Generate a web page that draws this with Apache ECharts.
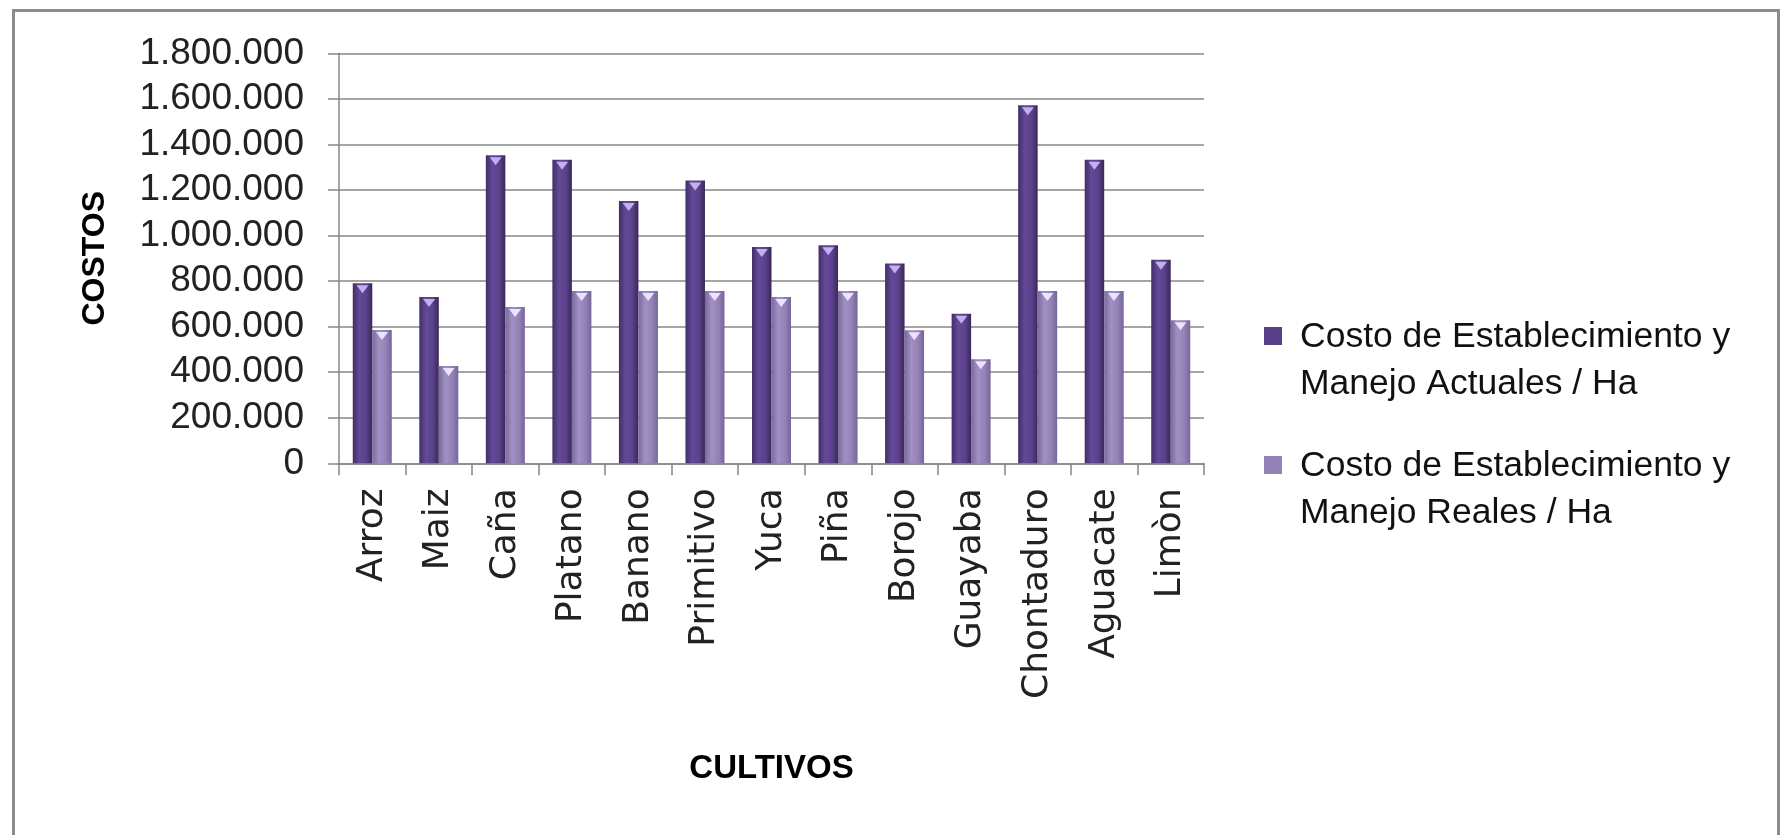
<!DOCTYPE html>
<html>
<head>
<meta charset="utf-8">
<script src="https://cdn.jsdelivr.net/npm/echarts@6/dist/echarts.min.js"></script>
<style>
html,body{margin:0;padding:0;background:#fff;}
#chart{width:1780px;height:835px;}
</style>
</head>
<body>
<div id="chart"></div>
<script>
const categories = ['Arroz','Maiz','Caña','Platano','Banano','Primitivo','Yuca','Piña','Borojo','Guayaba','Chontaduro','Aguacate','Limòn'];
const seriesNames = ['Costo de Establecimiento y Manejo Actuales / Ha','Costo de Establecimiento y Manejo Reales / Ha'];
const legendLabels = ['Costo de Establecimiento y\nManejo Actuales / Ha','Costo de Establecimiento y\nManejo Reales / Ha'];
const actuales = [790000, 730000, 1352000, 1333000, 1152000, 1242000, 950000, 957000, 877000, 657000, 1572000, 1333000, 894000];
const reales   = [585000, 427000, 686000, 756000, 756000, 756000, 730000, 756000, 584000, 457000, 756000, 756000, 628000];
const yTicks = {min: 0, max: 1800000, interval: 200000};

const chart = echarts.init(document.getElementById('chart'));
const G = echarts.graphic.LinearGradient;
const darkGrad = new G(0,0,1,0,[
  {offset:0,color:'#432d68'},{offset:0.35,color:'#644a97'},{offset:0.7,color:'#5a418a'},{offset:1,color:'#3a275a'}]);
const lightGrad = new G(0,0,1,0,[
  {offset:0,color:'#7a6a9c'},{offset:0.35,color:'#a090c3'},{offset:0.7,color:'#9482b6'},{offset:1,color:'#75659a'}]);
const fmt = v => v === 0 ? '0' : String(v).replace(/\B(?=(\d{3})+(?!\d))/g, '.');
const tri = 'path://M0,0 L10,0 L5,7 Z';
const legendIcon = 'path://M2,13 L20,13 L20,31 L2,31 Z M0,0 L0.01,0 M33,94 L33.01,94';
const gridColor = '#878787';

chart.setOption({
  animation: false,
  backgroundColor: '#fff',
  grid: {left: 339, right: 576, top: 53.3, bottom: 371.7, containLabel: false},
  legend: {
    orient: 'vertical', left: 1262, top: 314, itemGap: 35, padding: 0,
    itemWidth: 33, itemHeight: 94, icon: legendIcon,
    data: [
      {name: seriesNames[0], itemStyle: {color: '#5a408b'}},
      {name: seriesNames[1], itemStyle: {color: '#9382b5'}}
    ],
    formatter: n => legendLabels[seriesNames.indexOf(n)],
    textStyle: {fontFamily: 'Liberation Sans', fontSize: 35.5, lineHeight: 47, color: '#111'},
    selectedMode: false
  },
  xAxis: {
    type: 'category', data: categories,
    name: 'CULTIVOS', nameLocation: 'middle', nameGap: 289,
    nameTextStyle: {fontFamily: 'Liberation Sans', fontWeight: 'bold', fontSize: 33, color: '#000'},
    axisLine: {lineStyle: {color: gridColor, width: 1.5}},
    axisTick: {show: true, length: 12, lineStyle: {color: gridColor, width: 1.5}},
    axisLabel: {rotate: 90, margin: 25, fontFamily: 'DejaVu Sans', fontSize: 36, color: '#222', interval: 0}
  },
  yAxis: {
    type: 'value', min: yTicks.min, max: yTicks.max, interval: yTicks.interval,
    name: 'COSTOS', nameLocation: 'middle', nameRotate: 90, nameGap: 228,
    nameTextStyle: {fontFamily: 'Liberation Sans', fontWeight: 'bold', fontSize: 32, color: '#000'},
    axisLine: {show: true, lineStyle: {color: gridColor, width: 1.5}},
    axisTick: {show: true, length: 11, lineStyle: {color: gridColor, width: 1.5}},
    splitLine: {lineStyle: {color: gridColor, width: 1.5}},
    axisLabel: {margin: 35, fontFamily: 'Liberation Sans', fontSize: 37, color: '#222', formatter: fmt}
  },
  series: [
    {name: seriesNames[0], type: 'bar', data: actuales, barWidth: 19.5, barGap: '0%',
     itemStyle: {color: darkGrad}},
    {name: seriesNames[1], type: 'bar', data: reales, barWidth: 19.5, barGap: '0%',
     itemStyle: {color: lightGrad}},
    {name: 'tri1', type: 'pictorialBar', data: actuales, barWidth: 19.5, barGap: '0%',
     symbol: tri, symbolSize: [12, 8], symbolPosition: 'end', symbolOffset: [0, 2],
     itemStyle: {color: '#c4aef2'}, z: 5, silent: true},
    {name: 'tri2', type: 'pictorialBar', data: reales, barWidth: 19.5, barGap: '0%',
     symbol: tri, symbolSize: [12, 8], symbolPosition: 'end', symbolOffset: [0, 2],
     itemStyle: {color: '#ede2ff'}, z: 5, silent: true}
  ],
  graphic: [{
    type: 'rect', left: 11, top: 8, silent: true, z: -1,
    shape: {x: 0, y: 0, width: 1765, height: 850},
    style: {fill: 'none', stroke: '#8c8c8c', lineWidth: 3}
  }]
});
</script>
</body>
</html>
